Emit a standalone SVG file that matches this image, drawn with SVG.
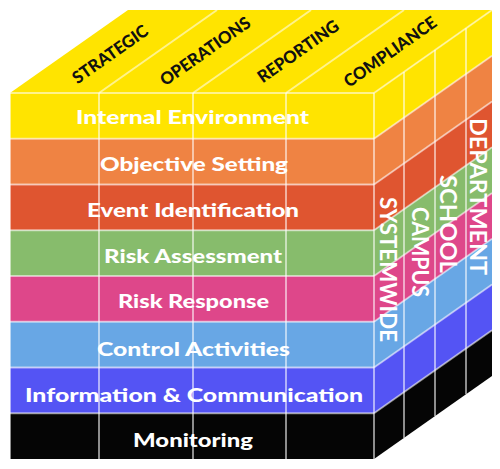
<svg xmlns="http://www.w3.org/2000/svg" width="500" height="469" viewBox="0 0 500 469">
  <defs>
    <style>
      .grid { stroke: #ffffff; stroke-opacity: 0.55; stroke-width: 2; fill: none; }
      .front-label { font-family: Lato, "Open Sans", "Liberation Sans", sans-serif; font-weight: 900; font-size: 19px; fill: #ffffff; }
      .top-label { font-family: Lato, "Open Sans", "Liberation Sans", sans-serif; font-weight: 900; font-size: 17px; fill: #111111; }
      .side-label { font-family: Lato, "Open Sans", "Liberation Sans", sans-serif; font-weight: 700; font-size: 22px; fill: #ffffff; }
      .c-yellow { fill: #FFE400; }
      .c-orange { fill: #EF8343; }
      .c-red { fill: #DF5530; }
      .c-green { fill: #87BC6C; }
      .c-pink { fill: #DE478A; }
      .c-blue { fill: #68A7E5; }
      .c-violet { fill: #5454F4; }
      .c-black { fill: #050505; }
    </style>
  </defs>
  <rect width="500" height="469" fill="#ffffff"/>

  <!-- Top face -->
  <g id="top-face">
    <polygon class="c-yellow" points="10,93 128,10 492,10 374,93"/>
  </g>

  <!-- Front face bands -->
  <g id="front-face">
    <rect class="c-yellow" x="10" y="93" width="364" height="45.75"/>
    <rect class="c-orange" x="10" y="138.75" width="364" height="45.75"/>
    <rect class="c-red" x="10" y="184.5" width="364" height="45.75"/>
    <rect class="c-green" x="10" y="230.25" width="364" height="45.75"/>
    <rect class="c-pink" x="10" y="276" width="364" height="45.75"/>
    <rect class="c-blue" x="10" y="321.75" width="364" height="45.75"/>
    <rect class="c-violet" x="10" y="367.5" width="364" height="45.75"/>
    <rect class="c-black" x="10" y="413.25" width="364" height="45.75"/>
  </g>

  <!-- Right face bands -->
  <g id="right-face">
    <polygon class="c-yellow" points="374,93 492,10 492,55.75 374,138.75"/>
    <polygon class="c-orange" points="374,138.75 492,55.75 492,101.5 374,184.5"/>
    <polygon class="c-red" points="374,184.5 492,101.5 492,147.25 374,230.25"/>
    <polygon class="c-green" points="374,230.25 492,147.25 492,193 374,276"/>
    <polygon class="c-pink" points="374,276 492,193 492,238.75 374,321.75"/>
    <polygon class="c-blue" points="374,321.75 492,238.75 492,284.5 374,367.5"/>
    <polygon class="c-violet" points="374,367.5 492,284.5 492,330.25 374,413.25"/>
    <polygon class="c-black" points="374,413.25 492,330.25 492,376 374,459"/>
  </g>

  <!-- Grid lines -->
  <g id="grid-lines" class="grid">
    <!-- top face -->
    <line x1="10" y1="93" x2="374" y2="93"/>
    <line x1="99" y1="93" x2="217" y2="10"/>
    <line x1="193" y1="93" x2="311" y2="10"/>
    <line x1="286" y1="93" x2="404" y2="10"/>
    <line x1="374" y1="93" x2="492" y2="10"/>
    <!-- front face -->
    <line x1="10" y1="93" x2="10" y2="459"/>
    <line x1="99" y1="93" x2="99" y2="459"/>
    <line x1="193" y1="93" x2="193" y2="459"/>
    <line x1="286" y1="93" x2="286" y2="459"/>
    <line x1="374" y1="93" x2="374" y2="459"/>
    <line x1="10" y1="138.75" x2="374" y2="138.75"/>
    <line x1="10" y1="184.5" x2="374" y2="184.5"/>
    <line x1="10" y1="230.25" x2="374" y2="230.25"/>
    <line x1="10" y1="276" x2="374" y2="276"/>
    <line x1="10" y1="321.75" x2="374" y2="321.75"/>
    <line x1="10" y1="367.5" x2="374" y2="367.5"/>
    <line x1="10" y1="413.25" x2="374" y2="413.25"/>
    <!-- right face -->
    <line x1="404" y1="71.9" x2="404" y2="437.9"/>
    <line x1="435" y1="50.1" x2="435" y2="416.1"/>
    <line x1="466" y1="28.3" x2="466" y2="394.3"/>
    <line x1="374" y1="138.75" x2="492" y2="55.75"/>
    <line x1="374" y1="184.5" x2="492" y2="101.5"/>
    <line x1="374" y1="230.25" x2="492" y2="147.25"/>
    <line x1="374" y1="276" x2="492" y2="193"/>
    <line x1="374" y1="321.75" x2="492" y2="238.75"/>
    <line x1="374" y1="367.5" x2="492" y2="284.5"/>
    <line x1="374" y1="413.25" x2="492" y2="330.25"/>
  </g>

  <!-- Front labels -->
  <g id="front-labels">
    <text id="internal-environment" class="front-label" x="76" y="123.5" textLength="233" lengthAdjust="spacingAndGlyphs">Internal Environment</text>
    <text id="objective-setting" class="front-label" x="100" y="170.5" textLength="188" lengthAdjust="spacingAndGlyphs">Objective Setting</text>
    <text id="event-identification" class="front-label" x="87" y="217" textLength="212" lengthAdjust="spacingAndGlyphs">Event Identification</text>
    <text id="risk-assessment" class="front-label" x="104" y="262.5" textLength="178" lengthAdjust="spacingAndGlyphs">Risk Assessment</text>
    <text id="risk-response" class="front-label" x="118" y="308" textLength="151" lengthAdjust="spacingAndGlyphs">Risk Response</text>
    <text id="control-activities" class="front-label" x="97" y="355.5" textLength="193" lengthAdjust="spacingAndGlyphs">Control Activities</text>
    <text id="information-communication" class="front-label" x="25" y="401.5" textLength="338" lengthAdjust="spacingAndGlyphs">Information &amp; Communication</text>
    <text id="monitoring" class="front-label" x="133" y="446.5" textLength="120" lengthAdjust="spacingAndGlyphs">Monitoring</text>
  </g>

  <!-- Top labels -->
  <g id="top-labels">
    <g id="strategic" transform="translate(110,54) rotate(-35.1)">
      <text class="top-label" x="-44" y="6.2" textLength="88" lengthAdjust="spacingAndGlyphs">STRATEGIC</text>
    </g>
    <g id="operations" transform="translate(205,51) rotate(-35.1)">
      <text class="top-label" x="-53" y="6.2" textLength="106" lengthAdjust="spacingAndGlyphs">OPERATIONS</text>
    </g>
    <g id="reporting" transform="translate(298,51) rotate(-35.1)">
      <text class="top-label" x="-47.5" y="6.2" textLength="95" lengthAdjust="spacingAndGlyphs">REPORTING</text>
    </g>
    <g id="compliance" transform="translate(390,51.5) rotate(-35.1)">
      <text class="top-label" x="-54.5" y="6.2" textLength="109" lengthAdjust="spacingAndGlyphs">COMPLIANCE</text>
    </g>
  </g>

  <!-- Side labels -->
  <g id="side-labels">
    <g id="systemwide" transform="translate(380,197) rotate(90)">
      <text class="side-label" x="0" y="0" textLength="145" lengthAdjust="spacingAndGlyphs">SYSTEMWIDE</text>
    </g>
    <g id="campus" transform="translate(412,207) rotate(90)">
      <text class="side-label" x="0" y="0" textLength="90" lengthAdjust="spacingAndGlyphs">CAMPUS</text>
    </g>
    <g id="school" transform="translate(440,175) rotate(90)">
      <text class="side-label" x="0" y="0" textLength="98" lengthAdjust="spacingAndGlyphs">SCHOOL</text>
    </g>
    <g id="department" transform="translate(470,118) rotate(90)">
      <text class="side-label" x="0" y="0" textLength="157" lengthAdjust="spacingAndGlyphs">DEPARTMENT</text>
    </g>
  </g>
</svg>
